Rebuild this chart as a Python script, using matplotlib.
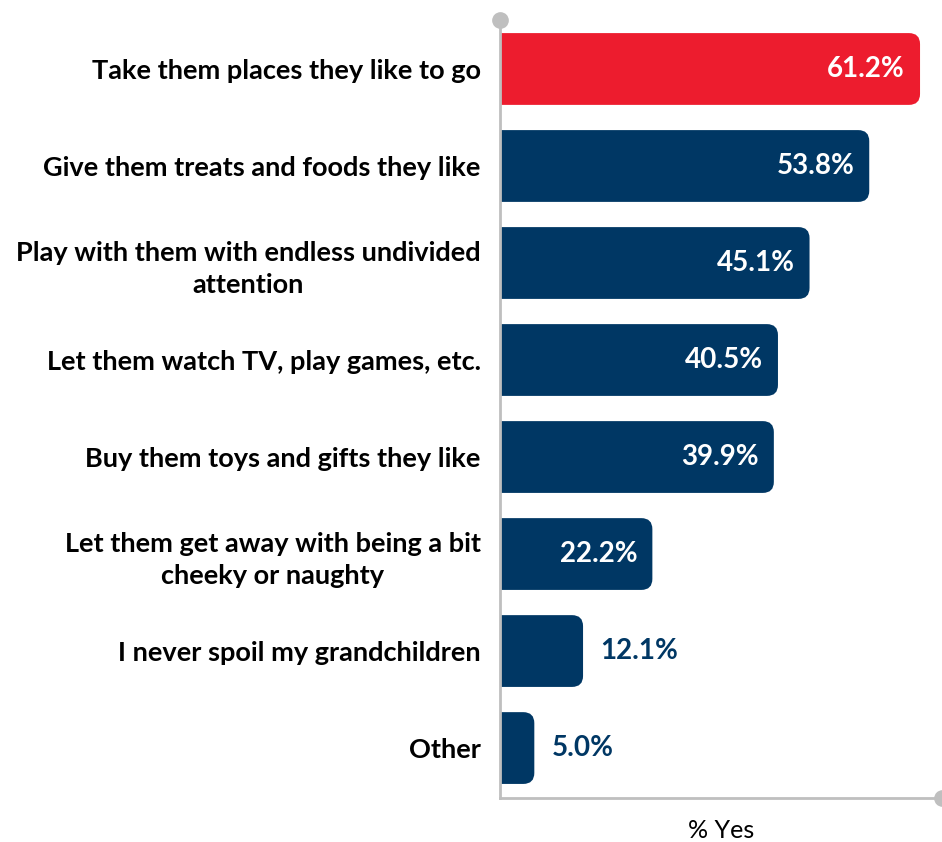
import matplotlib
matplotlib.use("Agg")
import matplotlib.pyplot as plt
from matplotlib.patches import FancyBboxPatch
from matplotlib.lines import Line2D

categories = [
    "Take them places they like to go",
    "Give them treats and foods they like",
    "Play with them with endless undivided\nattention",
    "Let them watch TV, play games, etc.",
    "Buy them toys and gifts they like",
    "Let them get away with being a bit\ncheeky or naughty",
    "I never spoil my grandchildren",
    "Other",
]
values = [61.2, 53.8, 45.1, 40.5, 39.9, 22.2, 12.1, 5.0]
labels = ["61.2%", "53.8%", "45.1%", "40.5%", "39.9%", "22.2%", "12.1%", "5.0%"]
x_label = "% Yes"

RED = "#ED1C2E"
NAVY = "#003764"
GREY = "#BFBFBF"
FONT = ["Lato", "DejaVu Sans"]

fig = plt.figure(figsize=(9.42, 8.42), dpi=100)
ax = fig.add_axes([500 / 942, 1 - 798 / 842, 442 / 942, (798 - 20) / 842])
ax.set_xlim(0, 64.4)
ax.set_ylim(7.515, -0.505)

ypos = list(range(len(categories)))
colors = [RED] + [NAVY] * (len(categories) - 1)
bars = ax.barh(ypos, values, height=0.74, color=colors)

xppu = 442 / 64.4
yppu = 97.0
aspect = (1 / yppu) / (1 / xppu)
for b, c in zip(bars, colors):
    x0, y0 = b.get_x(), b.get_y()
    w, h = b.get_width(), b.get_height()
    b.set_visible(False)
    p = FancyBboxPatch((x0 - 4, y0), w + 4, h,
                       boxstyle="round,pad=0,rounding_size=1.6",
                       mutation_aspect=aspect, facecolor=c, edgecolor="none",
                       zorder=2)
    ax.add_patch(p)

for y, v, lab in zip(ypos, values, labels):
    if v > 20:
        ax.text(v - 15 / xppu, y, lab, ha="right", va="center", color="white",
                fontsize=20, fontweight="bold", family=FONT, zorder=3)
    else:
        ax.text(v + 17 / xppu, y, lab, ha="left", va="center", color=NAVY,
                fontsize=20, fontweight="bold", family=FONT, zorder=3)

for s in ["top", "right"]:
    ax.spines[s].set_visible(False)
for s in ["left", "bottom"]:
    ax.spines[s].set_color(GREY)
    ax.spines[s].set_linewidth(2)
ax.set_xticks([])
ax.set_yticks(ypos)
ax.set_yticklabels(categories, fontsize=19.5, fontweight="bold", family=FONT,
                   multialignment="center", linespacing=1.4)
ax.tick_params(axis="y", length=0, pad=14)

ax.add_line(Line2D([0], [-0.505], marker="o", markersize=11, color=GREY,
                   clip_on=False, zorder=5))
ax.add_line(Line2D([64.4], [7.515], marker="o", markersize=11, color=GREY,
                   clip_on=False, zorder=5))

fig.text((500 + 942) / 2 / 942, 1 - 830 / 842, x_label, ha="center", va="center",
         fontsize=18, family=FONT)

fig.savefig("out.png", dpi=100)
